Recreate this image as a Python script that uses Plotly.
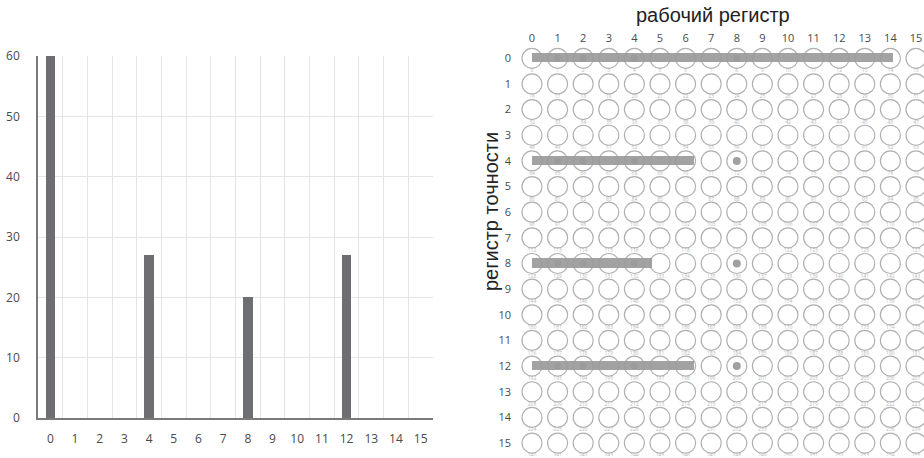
import plotly.graph_objects as go

# Histogram of accumulated values per register index
indices = list(range(16))
counts = [60, 0, 0, 0, 27, 0, 0, 0, 20, 0, 0, 0, 27, 0, 0, 0]
tick_labels = [str(i) for i in indices]

# Register grid (16 x 16 cells)
work_cols = list(range(16))
prec_rows = list(range(16))

# Highlighted bit positions inside the filled rows
bit_cols = [1, 2, 4, 8]
# Rows carrying a separate marker at column 8
marker_rows = [4, 8, 12]

title_x = "рабочий регистр"
title_y = "регистр точности"

W, H = 924, 458


def px(x):
    return x / W


def py(y):
    return 1 - y / H


BAR_DARK = "#6d6e71"
GRID = "#e4e4e4"
AXIS = "#7a7a7a"
TXT = "#4a4a4a"
CIRCLE = "#b0b0b0"

fig = go.Figure()

# ---------- left: histogram ----------
fig.add_trace(go.Bar(
    x=indices, y=counts, width=0.38,
    marker=dict(color=BAR_DARK, line=dict(width=0)),
    xaxis="x", yaxis="y", showlegend=False,
))

# ---------- right: circle grid ----------
gx, gy, glab = [], [], []
for r in prec_rows:
    for c in work_cols:
        gx.append(c)
        gy.append(r)
        glab.append(str(r * 16 + c))

fig.add_trace(go.Scatter(
    x=gx, y=gy, mode="markers",
    marker=dict(symbol="circle-open", size=20, color=CIRCLE,
                line=dict(width=1.2, color=CIRCLE)),
    xaxis="x2", yaxis="y2", showlegend=False, hoverinfo="skip",
))

# tiny cell index captions under each circle
fig.add_trace(go.Scatter(
    x=gx, y=[v + 0.5 for v in gy], mode="text", text=glab,
    textfont=dict(size=5, color="#b8b8b8", family="Open Sans"),
    xaxis="x2", yaxis="y2", showlegend=False, hoverinfo="skip",
))

# filled rows: the histogram drawn horizontally across the grid
bar_rows = [i for i, v in enumerate(counts) if v > 0]
bar_vals = [counts[i] for i in bar_rows]
fig.add_trace(go.Bar(
    y=bar_rows, x=bar_vals, orientation="h", width=0.36,
    marker=dict(color="#9b9b9b", line=dict(width=0)), opacity=0.92,
    xaxis="x3", yaxis="y2", showlegend=False,
))

# darker bit spots inside the filled rows
sx, sy = [], []
for r, v in zip(bar_rows, bar_vals):
    for c in bit_cols:
        if c * 60 / 14.1 <= v:
            sx.append(c)
            sy.append(r)
fig.add_trace(go.Scatter(
    x=sx, y=sy, mode="markers",
    marker=dict(size=7, color="#878787", opacity=0.8),
    xaxis="x2", yaxis="y2", showlegend=False, hoverinfo="skip",
))

# separate markers at column 8
fig.add_trace(go.Scatter(
    x=[8] * len(marker_rows), y=marker_rows, mode="markers",
    marker=dict(size=8, color="#a0a0a0"),
    xaxis="x2", yaxis="y2", showlegend=False, hoverinfo="skip",
))

# ---------- layout ----------
left_dom = [px(38), px(433)]
left_ydom = [py(418), py(56)]

cell = 25.6
col0 = 532.0
gl = col0 - cell / 2
gr_range_hi = (W - col0) / cell
row0 = 58.3
rcell = 25.65
g_top = row0 - rcell / 2
g_bot = row0 + 15 * rcell + rcell / 2

unit_px = 361.0 / 60.0  # horizontal bar scale on the grid

fig.update_layout(
    template="none",
    width=W, height=H,
    margin=dict(l=0, r=0, t=0, b=0, pad=0, autoexpand=False),
    paper_bgcolor="white", plot_bgcolor="white",
    bargap=0,
    font=dict(family="Open Sans", color=TXT, size=12),
    xaxis=dict(
        domain=left_dom, range=[-0.5, 15.5], automargin=False,
        tickmode="array", tickvals=indices, ticktext=tick_labels,
        showgrid=False, zeroline=False,
        ticks="outside", ticklen=9, tickcolor="rgba(0,0,0,0)",
        showline=True, linecolor=AXIS, linewidth=1.5,
        tickfont=dict(size=12, color=TXT),
        minor=dict(tickvals=[i + 0.5 for i in range(16)], showgrid=True,
                   gridcolor=GRID, gridwidth=1, ticks=""),
        fixedrange=True,
    ),
    yaxis=dict(
        domain=left_ydom, range=[0, 60], automargin=False,
        tickvals=[0, 10, 20, 30, 40, 50, 60],
        showgrid=True, gridcolor=GRID, gridwidth=1, zeroline=False,
        ticks="outside", ticklen=14, tickcolor="rgba(0,0,0,0)",
        showline=True, linecolor=AXIS, linewidth=1.5,
        tickfont=dict(size=12, color=TXT),
        fixedrange=True,
    ),
    xaxis2=dict(
        domain=[px(gl), 1.0], range=[-0.5, gr_range_hi], automargin=False,
        side="top", anchor="y2",
        tickmode="array", tickvals=work_cols,
        ticktext=[str(c) for c in work_cols],
        showgrid=False, zeroline=False, showline=False,
        ticks="", ticklen=0,
        tickfont=dict(size=11, color=TXT),
    ),
    yaxis2=dict(
        domain=[py(g_bot), py(g_top)], range=[15.5, -0.5], automargin=False,
        anchor="x2",
        tickmode="array", tickvals=prec_rows,
        ticktext=[str(r) for r in prec_rows],
        showgrid=False, zeroline=False, showline=False,
        ticks="outside", ticklen=5, tickcolor="rgba(0,0,0,0)",
        tickfont=dict(size=11, color=TXT),
    ),
    xaxis3=dict(
        domain=[px(gl), 1.0], automargin=False,
        range=[-(col0 - gl) / unit_px, (W - col0) / unit_px],
        overlaying="x2", anchor="y2", visible=False,
    ),
    annotations=[
        dict(text=title_x, x=px(713), y=py(15), xref="paper", yref="paper",
             showarrow=False, xanchor="center", yanchor="middle",
             font=dict(family="Liberation Sans", size=20, color="#222")),
        dict(text=title_y, x=px(491), y=py(212), xref="paper", yref="paper",
             showarrow=False, xanchor="center", yanchor="middle", textangle=-90,
             font=dict(family="Liberation Sans", size=20, color="#222")),
    ],
)

fig.write_html("out.html")
